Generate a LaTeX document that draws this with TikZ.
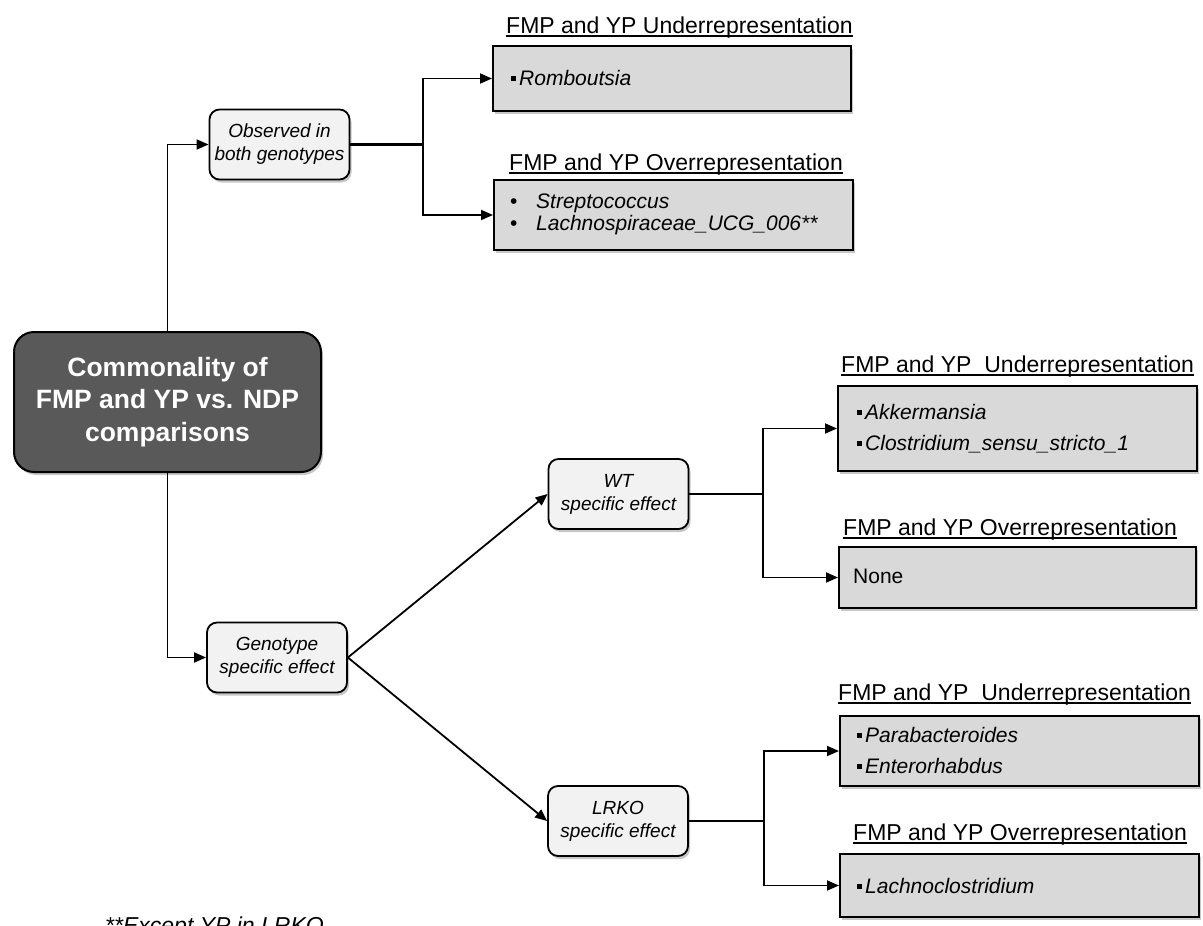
\documentclass[tikz,border=0pt]{standalone}
\usepackage{fontspec}
\setmainfont{Liberation Sans}
\usetikzlibrary{arrows.meta,shadows}

\definecolor{boxgray}{HTML}{D9D9D9}
\definecolor{softgray}{HTML}{F2F2F2}
\definecolor{darkbox}{HTML}{595959}

% small square bullet used in the result lists
\newcommand\sqb{\rule[4pt]{5pt}{5pt}\hspace{3pt}}

\begin{document}
\begin{tikzpicture}[x=1pt,y=-1pt,
  conn/.style={line width=1.8pt,-{Triangle[length=12pt,width=10pt]}},
  plainline/.style={line width=1.8pt},
  heavyline/.style={line width=3.8pt},
  softshadow/.style={drop shadow={shadow xshift=2pt,shadow yshift=-3pt,opacity=0.22,fill=black}},
  gbox/.style={draw=black,line width=2pt,fill=boxgray,softshadow,inner sep=0pt},
  rbox/.style={draw=black,line width=1.8pt,fill=softgray,rounded corners=10pt,softshadow,
    minimum width=140pt,minimum height=70pt,align=center,inner sep=0pt,
    font=\fontsize{19}{23}\selectfont\itshape},
  mainbox/.style={draw=black,line width=2pt,fill=darkbox,rounded corners=20pt,softshadow,
    minimum width=307pt,minimum height=140pt,align=center,inner sep=0pt,text=white,
    font=\fontsize{26.5}{32.5}\selectfont\bfseries},
  ttl/.style={anchor=base west,inner sep=0pt,font=\fontsize{23}{27}\selectfont},
  item/.style={anchor=base west,inner sep=0pt,font=\fontsize{21}{25}\selectfont},
  uline/.style={line width=1.5pt}
]
\useasboundingbox (0,0) rectangle (1203,926);
\clip (0,0) rectangle (1203,926);

% central box
\node[mainbox] (main) at (167.5,402) {Commonality of\\FMP and YP vs. NDP\\comparisons};

% second level
\node[rbox] (obs) at (279.5,144.5) {Observed in\\both genotypes};
\node[rbox] (geno) at (277,657.5) {Genotype\\specific effect};

% third level
\node[rbox] (wt) at (618.5,494) {WT\\specific effect};
\node[rbox] (lrko) at (618,821) {LRKO\\specific effect};

% result boxes
\node[gbox,minimum width=358pt,minimum height=65pt] (u1) at (672,78.5) {};
\node[gbox,minimum width=359pt,minimum height=70pt] (o1) at (673.5,215) {};
\node[gbox,minimum width=359pt,minimum height=85pt] (wu) at (1017.5,428.5) {};
\node[gbox,minimum width=357pt,minimum height=61pt] (wo) at (1017.5,577.5) {};
\node[gbox,minimum width=359pt,minimum height=70pt] (lu) at (1019.5,751) {};
\node[gbox,minimum width=359pt,minimum height=63pt] (lo) at (1019.5,885.5) {};

% headings with underlines
\node[ttl] (t1) at (506,33) {FMP and YP Underrepresentation};
\node[ttl] (t2) at (509,170) {FMP and YP Overrepresentation};
\node[ttl] (t3) at (841,372) {FMP and YP\ \ Underrepresentation};
\node[ttl] (t4) at (843,535) {FMP and YP Overrepresentation};
\node[ttl] (t5) at (838,700) {FMP and YP\ \ Underrepresentation};
\node[ttl] (t6) at (853,840) {FMP and YP Overrepresentation};
\foreach \t in {t1,t2,t3,t4,t5,t6}
  \draw[uline] ([yshift=-3pt]\t.base west) -- ([yshift=-3pt]\t.base east);

% list contents
\node[item] (u1a) at (511,85) {\sqb\textit{Romboutsia}};
\node[item] (o1a) at (510,208) {\makebox[26pt][l]{•}\textit{Streptococcus}};
\node[item] (o1b) at (510,230) {\makebox[26pt][l]{•}\textit{Lachnospiraceae\_UCG\_006**}};
\node[item] (wua) at (857,419) {\sqb\textit{Akkermansia}};
\node[item] (wub) at (857,450) {\sqb\textit{Clostridium\_sensu\_stricto\_1}};
\node[item] (woa) at (853,583) {None};
\node[item] (lua) at (857,742) {\sqb\textit{Parabacteroides}};
\node[item] (lub) at (857,773) {\sqb\textit{Enterorhabdus}};
\node[item] (loa) at (857,893) {\sqb\textit{Lachnoclostridium}};

% footnote, running off the lower edge of the page
\node[anchor=base west,inner sep=0pt,font=\fontsize{23}{27}\selectfont\itshape] (note) at (105,933) {**Except YP in LRKO};

% junction points
\coordinate (j1) at (423,144.5);
\coordinate (j2) at (763,494);
\coordinate (j3) at (764,821);

% connectors
\draw[conn] (main.north) |- (obs.west);
\draw[conn] (main.south) |- (geno.west);
\draw[heavyline] (obs.east) -- (j1);
\draw[conn] (j1) |- (u1.west);
\draw[conn] (j1) |- (o1.west);
\draw[conn] (geno.east) -- (wt.west);
\draw[conn] (geno.east) -- (lrko.west);
\draw[plainline] (wt.east) -- (j2);
\draw[conn] (j2) |- (wu.west);
\draw[conn] (j2) |- (wo.west);
\draw[plainline] (lrko.east) -- (j3);
\draw[conn] (j3) |- (lu.west);
\draw[conn] (j3) |- (lo.west);
\end{tikzpicture}
\end{document}
